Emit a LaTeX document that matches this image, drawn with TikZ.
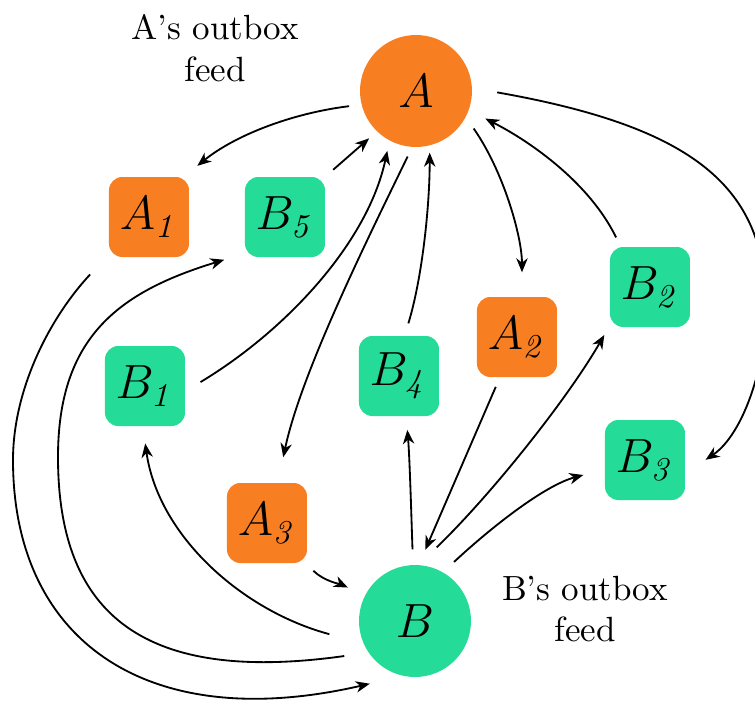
\documentclass[tikz,border=0pt]{standalone}
\usetikzlibrary{arrows.meta}
\definecolor{aorange}{RGB}{248,126,34}
\definecolor{bgreen}{RGB}{36,220,152}
\begin{document}
\begin{tikzpicture}[x=0.3pt,y=0.3pt,
  circ/.style={circle, minimum size=33.6pt, inner sep=0pt, font=\Large},
  boxn/.style={rectangle, rounded corners=4pt, minimum size=24pt, inner sep=0pt, font=\Large},
  anode/.style={fill=aorange},
  bnode/.style={fill=bgreen},
  lbl/.style={align=center, font=\fontsize{10.5}{12.5}\selectfont},
  e/.style={-{Stealth[length=4.2pt,width=3.4pt,inset=1.3pt]}, line width=0.55pt, shorten <=3pt, shorten >=3pt}]
\useasboundingbox (0,0) rectangle (755,702);
% nodes
\node[circ,anode] (A) at (416,611) {$A$};
\node[circ,bnode] (B) at (415,81) {$B$};
\node[boxn,anode] (A1) at (149,485) {$A_{\mathit{1}}$};
\node[boxn,bnode] (B5) at (285,485) {$B_{\mathit{5}}$};
\node[boxn,bnode] (B1) at (145,316) {$B_{\mathit{1}}$};
\node[boxn,bnode] (B4) at (399,326) {$B_{\mathit{4}}$};
\node[boxn,anode] (A2) at (517,365) {$A_{\mathit{2}}$};
\node[boxn,bnode] (B2) at (650,415) {$B_{\mathit{2}}$};
\node[boxn,bnode] (B3) at (645,242) {$B_{\mathit{3}}$};
\node[boxn,anode] (A3) at (267,179) {$A_{\mathit{3}}$};
\node[lbl] (LA) at (215,654) {A's outbox\\feed};
\node[lbl] (LB) at (585,93) {B's outbox\\feed};
% way points of the long loops
\coordinate (w5) at (58,245);
\coordinate (w16) at (13,242);
\coordinate (w8) at (766,395);
% edges
\draw[e, shorten <=3.6pt, shorten >=5pt] (A.194) .. controls +(187:70) and +(39:65) .. (A1.49);
\draw[e] (B5.45) -- (A.226);
\draw[e, shorten <=5.2pt] (B1.353) .. controls +(31:115) and +(258:105) .. (A.242);
\draw[e, shorten >=7.7pt] (A.266) .. controls +(244:110) and +(78:110) .. (A3.75);
\draw[e, shorten <=3.75pt, shorten >=2pt] (B4.82) .. controls +(73:60) and +(270:60) .. (A.284);
\draw[e, shorten <=4pt, shorten >=7.2pt] (A.332) .. controls +(305:65) and +(90:60) .. (A2.83);
\draw[e, shorten >=5.4pt] (B2.126) .. controls +(116:70) and +(333:70) .. (A.340);
\draw[e, shorten <=7.5pt, shorten >=7.2pt] (A.3) .. controls +(-10:225) and +(90:120) .. (w8)
   .. controls +(270:60) and +(34:69) .. (B3.342);
\draw[e, shorten >=4.8pt] (A2.247) -- (B.86);
\draw[e, shorten <=4.5pt, shorten >=4pt] (B.92) .. controls +(92:40) and +(275:40) .. (B4.280);
\draw[e, shorten <=7.4pt] (B.86) .. controls +(44:100) and +(240:85) .. (B2.224);
\draw[e, shorten <=4.4pt, shorten >=6.5pt] (B.60) .. controls +(43:65) and +(195:62) .. (B3.193);
\draw[e, shorten >=5.5pt] (A3.314) .. controls +(315:25) and +(155:25) .. (B.153);
\draw[e, shorten <=10.4pt, shorten >=5.1pt] (B.203) .. controls +(165:125) and +(278:110) .. (B1.267);
\draw[e, shorten <=7.2pt, shorten >=6.3pt] (B.214) .. controls +(188:224) and +(270:160) .. (w5)
   .. controls +(90:120) and +(197:131) .. (B5.222);
\draw[e, shorten <=8pt, shorten >=10pt] (A1.223) .. controls +(227:87) and +(90:70) .. (w16)
   .. controls +(270:180) and +(193:263) .. (B.257);
\end{tikzpicture}
\end{document}
